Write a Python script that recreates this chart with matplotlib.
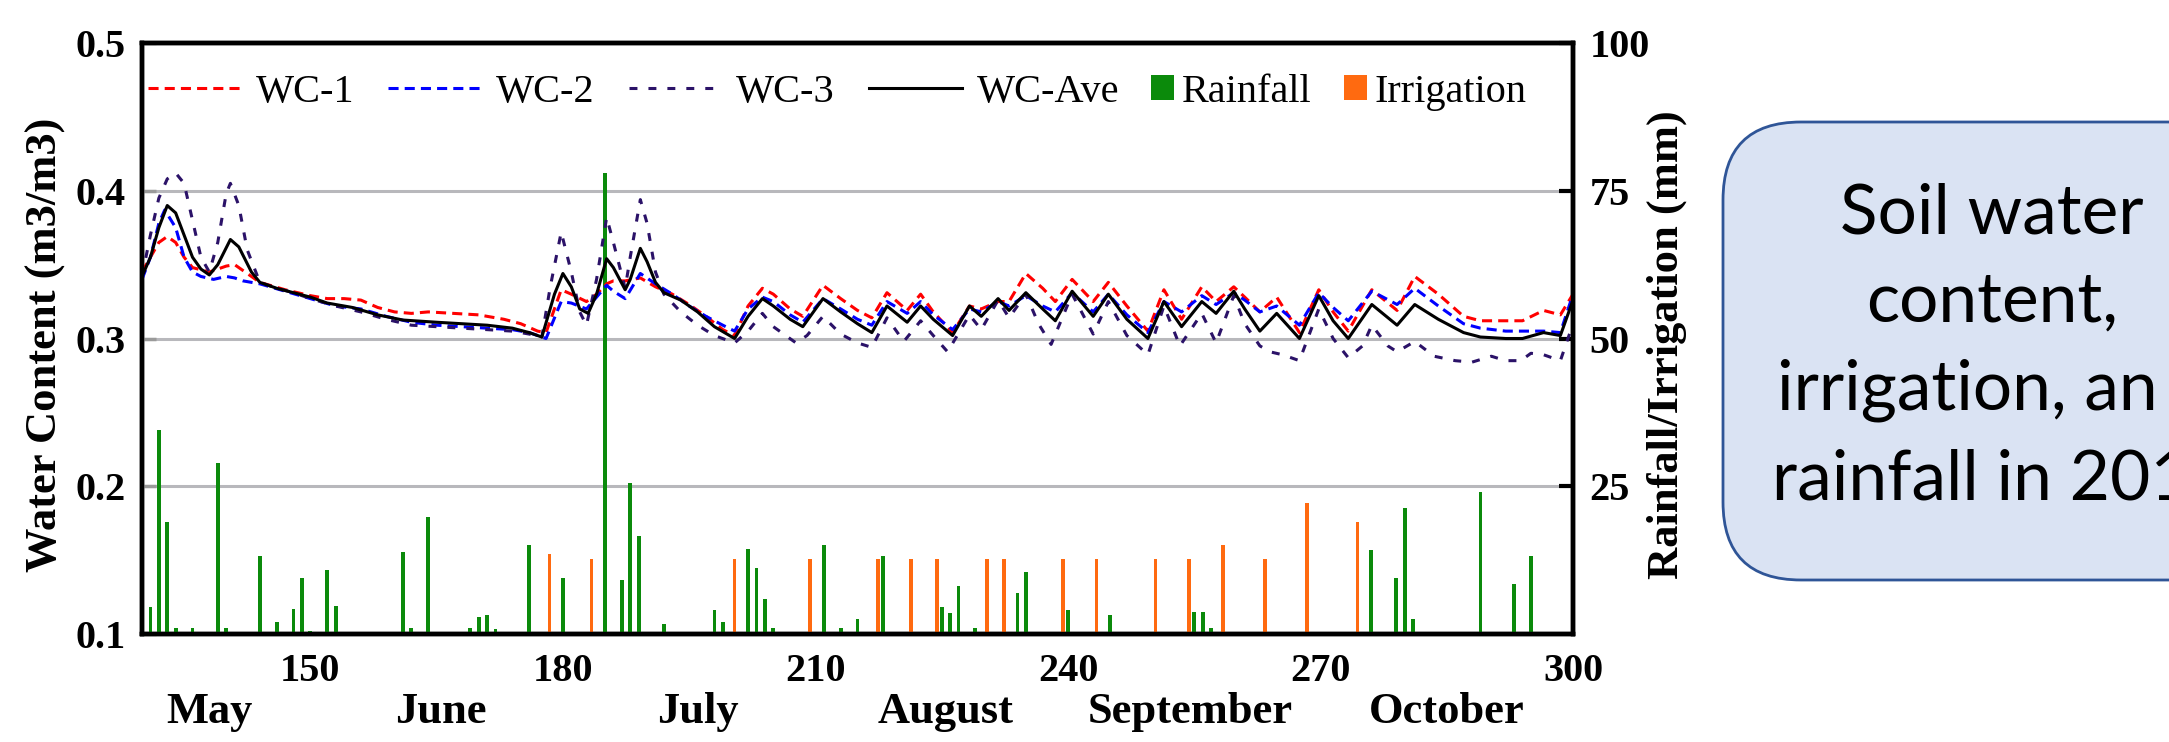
import numpy as np
import matplotlib
matplotlib.use("Agg")
from matplotlib import pyplot as plt
from matplotlib.patches import Patch, FancyBboxPatch
from matplotlib.lines import Line2D

plt.rcParams['font.family'] = ['Liberation Serif', 'DejaVu Serif']

# ---- data (day of year) ----
AVE_DAY = [130, 131, 132, 133, 134, 135, 136, 137, 138, 139, 140.5, 141.5, 143, 144, 146, 148, 150, 152,
           155, 158, 161, 165, 168, 171, 174, 176, 177.5, 179, 180, 181, 182, 183, 184, 185.2, 186, 187.4,
           188, 189.2, 190, 191, 192, 194, 196, 198, 200.4, 202, 203.7, 205, 207, 208.5, 210.9, 213, 215,
           216.7, 218.5, 220.9, 222.5, 224, 226.3, 228.3, 229.7, 231.7, 233, 235, 237, 238.5, 240.5, 243,
           244.8, 247, 249.5, 251.4, 253.5, 255.9, 257.6, 259.7, 261, 262.8, 264.8, 267.5, 269.8, 271.5,
           273.3, 276.1, 279.1, 281.2, 284, 287, 289, 292, 294, 296.5, 298.5, 300]
WC_AVE = [0.342, 0.355, 0.375, 0.390, 0.385, 0.370, 0.355, 0.347, 0.343, 0.350, 0.367, 0.362, 0.345, 0.338,
          0.334, 0.331, 0.328, 0.324, 0.321, 0.316, 0.3125, 0.311, 0.310, 0.309, 0.307, 0.304, 0.301, 0.330,
          0.344, 0.335, 0.320, 0.317, 0.330, 0.354, 0.348, 0.333, 0.340, 0.361, 0.352, 0.338, 0.331, 0.326,
          0.318, 0.308, 0.300, 0.315, 0.327, 0.322, 0.313, 0.308, 0.327, 0.318, 0.310, 0.304, 0.322, 0.311,
          0.322, 0.313, 0.302, 0.322, 0.315, 0.327, 0.319, 0.331, 0.320, 0.312, 0.332, 0.315, 0.330, 0.313,
          0.300, 0.325, 0.308, 0.325, 0.317, 0.332, 0.320, 0.305, 0.317, 0.300, 0.329, 0.312, 0.300, 0.323,
          0.309, 0.323, 0.313, 0.304, 0.301, 0.300, 0.300, 0.304, 0.302, 0.326]

WC1_DAY = [130, 131, 132, 133, 134, 135, 136, 138, 140, 141, 142, 144, 147, 150, 152, 154, 156, 158, 160,
           162, 164, 167, 170, 173, 175, 177, 178, 179.8, 181, 182.8, 184, 185.2, 186, 187.4, 189.2, 191,
           193, 195, 197, 199, 200.4, 202, 203.7, 205, 207, 208.5, 210.9, 213, 215, 216.7, 218.5, 220.9,
           222.5, 224, 226.3, 228.3, 229.7, 231.7, 233, 235, 237, 238.5, 240.5, 243, 244.8, 247, 249.5,
           251.4, 253.5, 255.9, 257.6, 259.7, 261, 262.8, 264.8, 267.5, 269.8, 271.5, 273.3, 276.1, 279.1,
           281.2, 284, 287, 289, 292, 294, 296.5, 298.5, 300]
WC1 = [0.345, 0.355, 0.365, 0.369, 0.365, 0.355, 0.348, 0.345, 0.349, 0.350, 0.346, 0.338, 0.333, 0.329,
       0.327, 0.327, 0.326, 0.321, 0.318, 0.317, 0.318, 0.317, 0.316, 0.313, 0.310, 0.305, 0.304, 0.333,
       0.330, 0.325, 0.330, 0.337, 0.339, 0.339, 0.341, 0.335, 0.330, 0.323, 0.315, 0.306, 0.302, 0.322,
       0.334, 0.330, 0.320, 0.315, 0.336, 0.327, 0.319, 0.314, 0.331, 0.319, 0.330, 0.318, 0.304, 0.322,
       0.320, 0.325, 0.325, 0.344, 0.334, 0.325, 0.340, 0.325, 0.338, 0.322, 0.305, 0.333, 0.313, 0.335,
       0.325, 0.335, 0.328, 0.318, 0.328, 0.304, 0.333, 0.318, 0.305, 0.333, 0.319, 0.342, 0.330, 0.315,
       0.312, 0.312, 0.312, 0.319, 0.316, 0.330]

WC2_DAY = [130, 131, 132, 132.7, 134, 135, 136, 137, 138.5, 140, 141, 142, 144, 147, 150, 153, 156, 159,
           162, 165, 168, 171, 174, 176, 178, 179.8, 181, 182.8, 184, 185.2, 186, 187.4, 189.2, 191, 193,
           195, 197, 199, 200.4, 202, 203.7, 205, 207, 208.5, 210.9, 213, 215, 216.7, 218.5, 220.9, 222.5,
           224, 226.3, 228.3, 229.7, 231.7, 233, 235, 237, 238.5, 240.5, 243, 244.8, 247, 249.5, 251.4,
           253.5, 255.9, 257.6, 259.7, 261, 262.8, 264.8, 267.5, 269.8, 271.5, 273.3, 276.1, 279.1, 281.2,
           284, 287, 289, 292, 294, 296.5, 298.5, 300]
WC2 = [0.340, 0.355, 0.378, 0.387, 0.375, 0.355, 0.345, 0.342, 0.340, 0.342, 0.341, 0.339, 0.337, 0.332,
       0.327, 0.322, 0.320, 0.315, 0.311, 0.309, 0.308, 0.307, 0.306, 0.304, 0.300, 0.325, 0.324, 0.320,
       0.328, 0.336, 0.332, 0.327, 0.344, 0.337, 0.330, 0.322, 0.315, 0.309, 0.305, 0.320, 0.328, 0.325,
       0.316, 0.311, 0.327, 0.320, 0.313, 0.309, 0.325, 0.317, 0.325, 0.316, 0.306, 0.320, 0.318, 0.325,
       0.322, 0.329, 0.322, 0.318, 0.331, 0.318, 0.330, 0.316, 0.304, 0.325, 0.318, 0.329, 0.323, 0.331,
       0.326, 0.318, 0.322, 0.309, 0.331, 0.321, 0.312, 0.332, 0.323, 0.334, 0.322, 0.310, 0.307, 0.305,
       0.305, 0.305, 0.304, 0.330]

WC3_DAY = [130, 131, 132, 133, 134, 135, 136, 137, 138, 139, 140, 140.5, 141.5, 142.5, 144, 146, 148, 150,
           153, 156, 159, 162, 165, 168, 171, 174, 176, 177.5, 178.5, 179.8, 181, 182, 182.8, 184, 185.2,
           186, 187.4, 188, 189.2, 190, 191, 192, 194, 196, 198, 200.4, 202, 203.7, 205, 207.7, 209, 210.9,
           213, 215, 216.7, 218.5, 220.5, 222.5, 224, 225.7, 228.3, 229.7, 231.7, 233, 235, 236.5, 238,
           240.5, 243, 244.8, 247, 249.5, 251.4, 253.3, 255.9, 257.6, 259.7, 261, 262.8, 264, 265.5, 267.5,
           269.8, 271.5, 273.3, 275, 276.1, 278, 279.1, 281.2, 283.5, 286, 288, 290.3, 292, 293.8, 295,
           296.5, 298.5, 300]
WC3 = [0.342, 0.370, 0.395, 0.408, 0.412, 0.405, 0.380, 0.355, 0.345, 0.365, 0.398, 0.405, 0.390, 0.360,
       0.338, 0.334, 0.331, 0.327, 0.322, 0.318, 0.313, 0.309, 0.308, 0.307, 0.306, 0.305, 0.303, 0.301,
       0.335, 0.372, 0.345, 0.318, 0.309, 0.340, 0.382, 0.365, 0.334, 0.355, 0.394, 0.378, 0.345, 0.330,
       0.318, 0.309, 0.302, 0.297, 0.305, 0.317, 0.308, 0.297, 0.302, 0.315, 0.303, 0.297, 0.294, 0.314,
       0.298, 0.312, 0.302, 0.291, 0.316, 0.306, 0.326, 0.314, 0.330, 0.310, 0.296, 0.330, 0.303, 0.325,
       0.302, 0.289, 0.322, 0.295, 0.317, 0.297, 0.329, 0.310, 0.295, 0.291, 0.289, 0.285, 0.320, 0.300,
       0.287, 0.295, 0.309, 0.295, 0.291, 0.298, 0.288, 0.285, 0.284, 0.288, 0.285, 0.285, 0.290, 0.289,
       0.285, 0.310]

RAIN_DAY = [130, 131, 132, 133, 134, 136, 139, 140, 144, 146, 148, 149, 150, 152, 153, 161, 162, 164, 169,
            170, 171, 172, 176, 180, 185, 187, 188, 189, 192, 198, 199, 202, 203, 204, 205, 211, 213, 215,
            218, 225, 226, 227, 229, 234, 235, 240, 245, 255, 256, 257, 276, 279, 280, 281, 289, 293, 295]
RAIN_MM = [0.8, 4.5, 34.5, 19, 1, 1, 28.9, 1, 13.2, 2, 4.2, 9.5, 0.5, 10.8, 4.8, 13.8, 1, 19.8, 1,
           2.9, 3.2, 0.8, 15, 9.4, 78, 9.1, 25.5, 16.5, 1.7, 4.1, 2, 14.4, 11.1, 5.9, 1, 15, 1, 2.5,
           13.2, 4.5, 3.5, 8.1, 1, 6.9, 10.5, 4.1, 3.2, 3.8, 3.8, 1, 14.2, 9.5, 21.3, 2.5, 24, 8.5, 13.2]

IRR_DAY = [178, 183, 200, 209, 217, 221, 224, 230, 232, 239, 243, 250, 254, 258, 263, 268, 274]
IRR_MM = [13.5, 12.7, 12.7, 12.7, 12.7, 12.7, 12.7, 12.7, 12.7, 12.7, 12.7, 12.7, 12.7, 15, 12.7, 22.1, 19]

X_TICKS = [150, 180, 210, 240, 270, 300]
MONTHS = ['May', 'June', 'July', 'August', 'September', 'October']
MONTH_DAY = [138, 165.5, 196, 225.5, 254.5, 285]

BOX_LINES = ['Soil water', 'content,', 'irrigation, an', 'rainfall in 201']

# ---- figure ----
fig = plt.figure(figsize=(21.69, 7.42), dpi=100)
ax2 = fig.add_axes([0.06547, 0.14555, 0.65975, 0.79650])
ax = ax2.twinx()
ax2.yaxis.tick_right()
ax.yaxis.tick_left()
ax.yaxis.set_label_position('left')
ax2.yaxis.set_label_position('right')
ax.set_zorder(ax2.get_zorder() + 1)
ax.patch.set_visible(False)

# bars (right axis)
ax2.bar(RAIN_DAY, RAIN_MM, width=0.45, color='#0b8a0b', zorder=3)
ax2.bar(np.array(IRR_DAY) + 0.4, IRR_MM, width=0.45, color='#ff6a10', zorder=3)
ax2.set_ylim(0, 100)
ax2.set_yticks([25, 50, 75, 100])
ax2.yaxis.grid(True, color='#b8b8bc', lw=2.2)
ax2.set_axisbelow(True)

# water content lines (left axis)
ax.plot(WC1_DAY, WC1, color='#ff0000', lw=2.2, dashes=(3.3, 2.0))
ax.plot(WC2_DAY, WC2, color='#0000ff', lw=2.2, dashes=(3.3, 2.0))
ax.plot(WC3_DAY, WC3, color='#2b1268', lw=2.2, dashes=(2.6, 3.6))
ax.plot(AVE_DAY, WC_AVE, color='black', lw=2.2)
ax.set_ylim(0.1, 0.5)
ax.set_yticks([0.1, 0.2, 0.3, 0.4, 0.5])
ax.set_yticklabels(['0.1', '0.2', '0.3', '0.4', '0.5'])
ax.set_xlim(130, 300)
ax2.set_xticks(X_TICKS)

for a in (ax, ax2):
    for s in a.spines.values():
        s.set_linewidth(3.2)
        s.set_color('black')

ax.tick_params(axis='y', direction='in', length=10, width=2.5, color='#9a9a9a', pad=12,
               labelsize=29)
ax2.tick_params(axis='y', direction='in', length=10, width=3, color='black', pad=12,
                labelsize=29)
ax2.tick_params(axis='x', length=0, pad=14, labelsize=29)
for lab in ax.get_yticklabels() + ax2.get_yticklabels() + ax2.get_xticklabels():
    lab.set_fontweight('bold')

ax.set_ylabel('Water Content (m3/m3)', fontsize=32, fontweight='bold')
ax.yaxis.set_label_coords(-0.0531, 0.49)
ax2.set_ylabel('Rainfall/Irrigation (mm)', fontsize=32, fontweight='bold')
ax2.yaxis.set_label_coords(1.0517, 0.49)

# month names under the day numbers
for m, d in zip(MONTHS, MONTH_DAY):
    ax.text(d, -0.1506, m, transform=ax.get_xaxis_transform(), ha='center', va='baseline',
            fontsize=32, fontweight='bold', clip_on=False)

# legends
line_handles = [
    Line2D([], [], color='#ff0000', lw=2.2, dashes=(3.3, 2.0)),
    Line2D([], [], color='#0000ff', lw=2.2, dashes=(3.3, 2.0)),
    Line2D([], [], color='#2b1268', lw=2.2, dashes=(2.6, 3.6)),
    Line2D([], [], color='black', lw=2.2),
]
leg1 = ax.legend(line_handles, ['WC-1', 'WC-2', 'WC-3', 'WC-Ave'], ncol=4, frameon=False,
                 loc='center left', bbox_to_anchor=(0.0042, 0.917), fontsize=29,
                 handlelength=2.3, handletextpad=0.37, columnspacing=0.85,
                 borderpad=0, borderaxespad=0)
ax.add_artist(leg1)
bar_handles = [Patch(facecolor='#0b8a0b'), Patch(facecolor='#ff6a10')]
ax.legend(bar_handles, ['Rainfall', 'Irrigation'], ncol=2, frameon=False,
          loc='center left', bbox_to_anchor=(0.705, 0.917), fontsize=29,
          handlelength=0.57, handleheight=0.57, handletextpad=0.2, columnspacing=0.8,
          borderpad=0, borderaxespad=0)

# rounded caption box on the right, running off the edge
box = FancyBboxPatch((17.23, 1.62), 5.4, 4.58, boxstyle='round,pad=0,rounding_size=0.78',
                     transform=fig.dpi_scale_trans, facecolor='#dae3f3', edgecolor='#2f5597',
                     lw=2.0)
fig.patches.append(box)
cap_font = dict(family=['Lato', 'DejaVu Sans'], fontsize=50, color='black', va='baseline')
fig.text(1992 / 2169, 1 - 233 / 742, BOX_LINES[0], ha='center', **cap_font)
fig.text(1992 / 2169, 1 - 322 / 742, BOX_LINES[1], ha='center', **cap_font)
fig.text(1777 / 2169, 1 - 410 / 742, BOX_LINES[2], ha='left', **cap_font)
fig.text(1772 / 2169, 1 - 500 / 742, BOX_LINES[3], ha='left', **cap_font)

fig.savefig('out.png', dpi=100, facecolor='white')
